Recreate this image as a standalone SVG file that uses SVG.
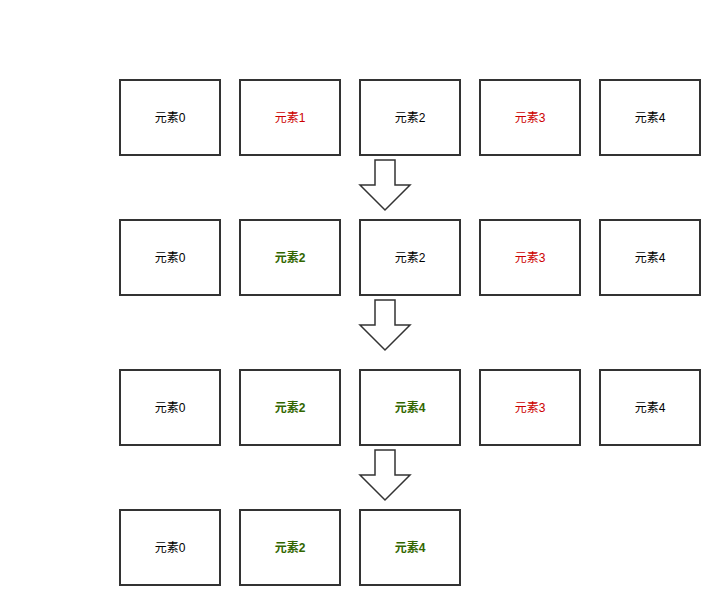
<svg xmlns="http://www.w3.org/2000/svg" width="720" height="605" viewBox="0 0 720 605">
<style>
.b{fill:#fff;stroke:#333;stroke-width:2}
.a{fill:#fff;stroke:#333;stroke-width:1.5;stroke-linejoin:miter}
text{font-family:"Liberation Sans","Noto Sans CJK SC",sans-serif;font-size:12px;text-anchor:middle;dominant-baseline:central}
.k{fill:#000}.r{fill:#CC0000}.g{fill:#336600;font-weight:bold}
</style>
<rect width="720" height="605" fill="#fff"/>
<g id="connectors">
<path class="a" d="M375,160 H395 V185 H410 L385,210 L360,185 H375 Z"/>
<path class="a" d="M375,300 H395 V325 H410 L385,350 L360,325 H375 Z"/>
<path class="a" d="M375,450 H395 V475 H410 L385,500 L360,475 H375 Z"/>
</g>
<g id="r1n0"><rect class="b" x="120" y="80" width="100" height="75"/><text class="k" x="170" y="117.5">元素0</text></g>
<g id="r1n1"><rect class="b" x="240" y="80" width="100" height="75"/><text class="r" x="290" y="117.5">元素1</text></g>
<g id="r1n2"><rect class="b" x="360" y="80" width="100" height="75"/><text class="k" x="410" y="117.5">元素2</text></g>
<g id="r1n3"><rect class="b" x="480" y="80" width="100" height="75"/><text class="r" x="530" y="117.5">元素3</text></g>
<g id="r1n4"><rect class="b" x="600" y="80" width="100" height="75"/><text class="k" x="650" y="117.5">元素4</text></g>

<g id="r2n0"><rect class="b" x="120" y="220" width="100" height="75"/><text class="k" x="170" y="257.5">元素0</text></g>
<g id="r2n1"><rect class="b" x="240" y="220" width="100" height="75"/><text class="g" x="290" y="257.5">元素2</text></g>
<g id="r2n2"><rect class="b" x="360" y="220" width="100" height="75"/><text class="k" x="410" y="257.5">元素2</text></g>
<g id="r2n3"><rect class="b" x="480" y="220" width="100" height="75"/><text class="r" x="530" y="257.5">元素3</text></g>
<g id="r2n4"><rect class="b" x="600" y="220" width="100" height="75"/><text class="k" x="650" y="257.5">元素4</text></g>

<g id="r3n0"><rect class="b" x="120" y="370" width="100" height="75"/><text class="k" x="170" y="407.5">元素0</text></g>
<g id="r3n1"><rect class="b" x="240" y="370" width="100" height="75"/><text class="g" x="290" y="407.5">元素2</text></g>
<g id="r3n2"><rect class="b" x="360" y="370" width="100" height="75"/><text class="g" x="410" y="407.5">元素4</text></g>
<g id="r3n3"><rect class="b" x="480" y="370" width="100" height="75"/><text class="r" x="530" y="407.5">元素3</text></g>
<g id="r3n4"><rect class="b" x="600" y="370" width="100" height="75"/><text class="k" x="650" y="407.5">元素4</text></g>

<g id="r4n0"><rect class="b" x="120" y="510" width="100" height="75"/><text class="k" x="170" y="547.5">元素0</text></g>
<g id="r4n1"><rect class="b" x="240" y="510" width="100" height="75"/><text class="g" x="290" y="547.5">元素2</text></g>
<g id="r4n2"><rect class="b" x="360" y="510" width="100" height="75"/><text class="g" x="410" y="547.5">元素4</text></g>
</svg>
